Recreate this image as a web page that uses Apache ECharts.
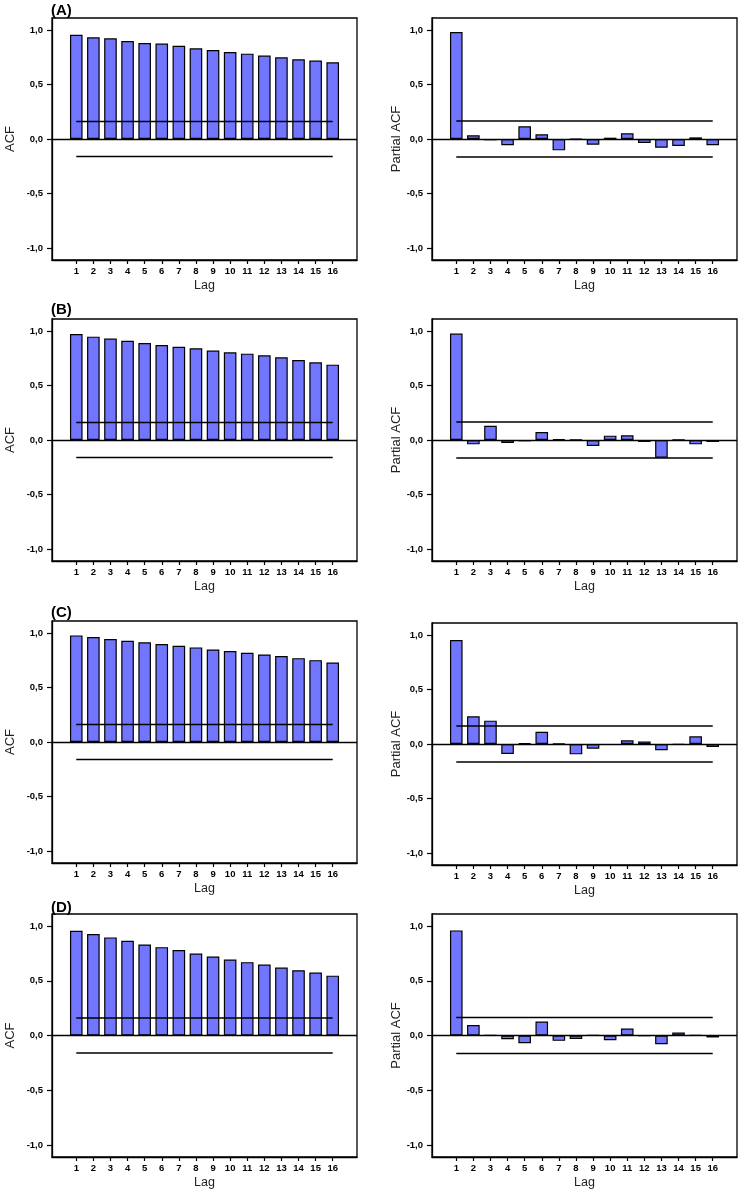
<!DOCTYPE html>
<html>
<head>
<meta charset="utf-8">
<script src="https://cdn.jsdelivr.net/npm/echarts@6/dist/echarts.min.js"></script>
<style>
html,body{margin:0;padding:0;background:#fff;}
#chart{width:741px;height:1199px;}
</style>
</head>
<body>
<div id="chart"></div>
<script>
// ---- data ----
const lags = [1,2,3,4,5,6,7,8,9,10,11,12,13,14,15,16];
const yTicks = [-1, -0.5, 0, 0.5, 1];
const panelLabels = ['(A)', '(B)', '(C)', '(D)'];

const acfA  = [0.957,0.933,0.924,0.899,0.881,0.875,0.856,0.832,0.817,0.798,0.783,0.765,0.749,0.731,0.719,0.703];
const pacfA = [0.982,0.034,-0.012,-0.058,0.117,0.043,-0.104,0.0,-0.052,0.012,0.052,-0.037,-0.080,-0.064,0.015,-0.058];

const acfB  = [0.972,0.948,0.930,0.911,0.890,0.872,0.856,0.841,0.820,0.804,0.792,0.777,0.758,0.734,0.713,0.691];
const pacfB = [0.976,-0.040,0.131,-0.028,-0.012,0.073,0.006,0.003,-0.055,0.040,0.043,-0.018,-0.162,0.002,-0.040,-0.018];

const acfC  = [0.978,0.963,0.945,0.929,0.914,0.898,0.883,0.868,0.849,0.834,0.818,0.803,0.788,0.769,0.751,0.729];
const pacfC = [0.954,0.254,0.214,-0.092,0.006,0.113,0.005,-0.095,-0.043,-0.009,0.034,0.024,-0.058,-0.008,0.070,-0.028];

const acfD  = [0.957,0.927,0.896,0.865,0.832,0.807,0.780,0.749,0.722,0.694,0.670,0.648,0.621,0.596,0.575,0.547];
const pacfD = [0.960,0.095,0.002,-0.034,-0.070,0.128,-0.049,-0.031,0.003,-0.043,0.064,-0.003,-0.080,0.028,0.005,-0.018];

const confACF  = [0.16, -0.16];
const confPACF = [0.165, -0.165];

// ---- layout ----
const panels = [
  {vals: acfA,  name: 'ACF',         conf: confACF,  left: 52,  top: 18,  h: 242, gap: 35},
  {vals: pacfA, name: 'Partial ACF', conf: confPACF, left: 432, top: 18,  h: 242, gap: 28},
  {vals: acfB,  name: 'ACF',         conf: confACF,  left: 52,  top: 319, h: 242, gap: 35},
  {vals: pacfB, name: 'Partial ACF', conf: confPACF, left: 432, top: 319, h: 242, gap: 28},
  {vals: acfC,  name: 'ACF',         conf: confACF,  left: 52,  top: 621, h: 242, gap: 35},
  {vals: pacfC, name: 'Partial ACF', conf: confPACF, left: 432, top: 623, h: 242, gap: 28},
  {vals: acfD,  name: 'ACF',         conf: confACF,  left: 52,  top: 914, h: 243, gap: 35},
  {vals: pacfD, name: 'Partial ACF', conf: confPACF, left: 432, top: 914, h: 243, gap: 28}
];
const labelTops = [3, 302, 605, 900];

const FONT = '"Liberation Sans", Arial, sans-serif';
const grids = [], xAxes = [], yAxes = [], series = [];

panels.forEach((p, i) => {
  grids.push({
    left: p.left, top: p.top, width: 305, height: p.h,
    show: true, borderColor: '#000', borderWidth: 1.3, backgroundColor: '#fff'
  });
  xAxes.push({
    gridIndex: i, type: 'value', min: -0.42, max: 17.42,
    name: 'Lag', nameLocation: 'middle', nameGap: 19,
    nameTextStyle: {fontFamily: FONT, fontSize: 12.5, color: '#222'},
    axisLine: {show: true, onZero: false, lineStyle: {color: '#000', width: 1.3}},
    axisTick: {show: true, customValues: lags, length: 4, lineStyle: {color: '#000', width: 1.2}},
    axisLabel: {customValues: lags, margin: 6, fontFamily: FONT, fontSize: 9.5, fontWeight: 'bold', color: '#000'},
    splitLine: {show: false}
  });
  yAxes.push({
    gridIndex: i, type: 'value', min: -1.11, max: 1.11,
    name: p.name, nameLocation: 'middle', nameGap: p.gap,
    nameTextStyle: {fontFamily: FONT, fontSize: 13, color: '#222'},
    axisLine: {show: true, onZero: false, lineStyle: {color: '#000', width: 1.3}},
    axisTick: {show: true, customValues: yTicks, length: 5, lineStyle: {color: '#000', width: 1.2}},
    axisLabel: {
      customValues: yTicks, margin: 9, fontFamily: FONT, fontSize: 9.5, fontWeight: 'bold', color: '#000',
      formatter: v => (Math.abs(v) < 1e-9 ? '0,0' : v.toFixed(1).replace('.', ','))
    },
    splitLine: {show: false}
  });
  series.push({
    type: 'bar', xAxisIndex: i, yAxisIndex: i,
    data: lags.map((l, k) => [l, p.vals[k]]),
    barWidth: 12.6,
    itemStyle: {color: '#7276FF', borderColor: '#000', borderWidth: 1.2},
    silent: true,
    markLine: {
      silent: true, symbol: 'none', label: {show: false},
      lineStyle: {color: '#000', width: 1.3, type: 'solid'},
      data: [{yAxis: 0}]
    },
    z: 2
  });
  p.conf.forEach(c => {
    series.push({
      type: 'line', xAxisIndex: i, yAxisIndex: i,
      data: [[lags[0], c], [lags[lags.length - 1], c]],
      symbol: 'none', silent: true,
      lineStyle: {color: '#000', width: 1.4},
      z: 3
    });
  });
});

const graphics = panelLabels.map((t, r) => ({
  type: 'text', left: 51, top: labelTops[r],
  style: {text: t, font: 'bold 15px "Liberation Sans", Arial, sans-serif', fill: '#000'}
}));

const chart = echarts.init(document.getElementById('chart'), null, {renderer: 'canvas'});
chart.setOption({
  animation: false,
  backgroundColor: '#fff',
  grid: grids,
  xAxis: xAxes,
  yAxis: yAxes,
  series: series,
  graphic: graphics
});
</script>
</body>
</html>
